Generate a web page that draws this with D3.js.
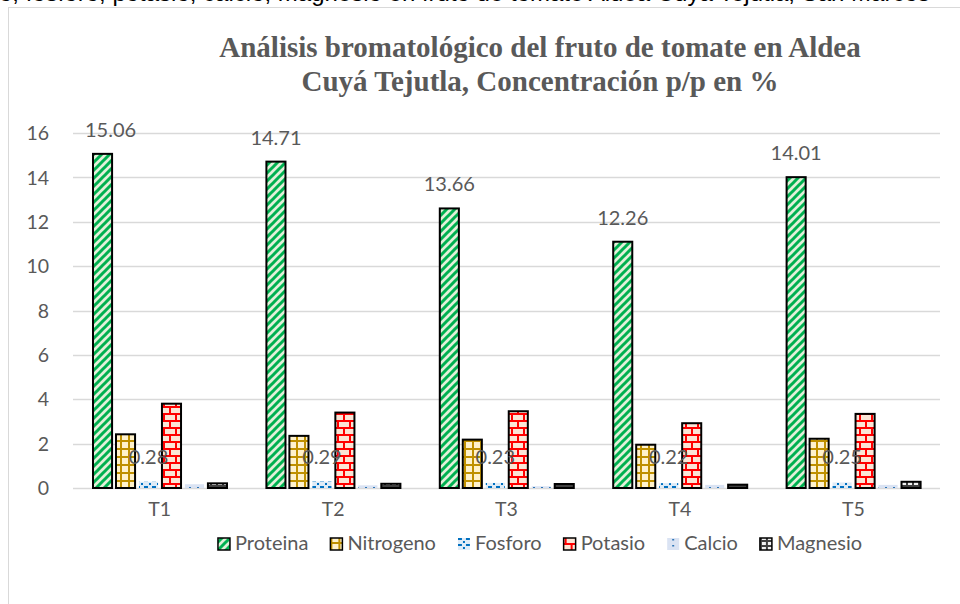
<!DOCTYPE html>
<html>
<head>
<meta charset="utf-8">
<script src="https://cdn.jsdelivr.net/npm/d3@7"></script>
<style>
  html, body { margin: 0; padding: 0; background: #fff; }
  svg { display: block; }
</style>
</head>
<body>
<svg id="chart" width="960" height="604"></svg>
<script>
// ---- data ----
const categories = ["T1", "T2", "T3", "T4", "T5"];
const seriesNames = ["Proteina", "Nitrogeno", "Fosforo", "Potasio", "Calcio", "Magnesio"];
// bar heights
const proteina  = [15.06, 14.71, 12.6, 11.1, 14.01];
const nitrogeno = [2.42, 2.35, 2.18, 1.95, 2.22];
const fosforo   = [0.28, 0.29, 0.23, 0.22, 0.25];
const potasio   = [3.80, 3.40, 3.46, 2.92, 3.34];
const calcio    = [0.17, 0.12, 0.08, 0.14, 0.14];
const magnesio  = [0.21, 0.19, 0.18, 0.15, 0.28];
// data label texts as printed in the picture
const proteinaLabels = ["15.06", "14.71", "13.66", "12.26", "14.01"];
const fosforoLabels  = ["0.28", "0.29", "0.23", "0.22", "0.25"];
const yTicks = [0, 2, 4, 6, 8, 10, 12, 14, 16];
const titleLines = ["Análisis bromatológico del fruto de tomate en Aldea",
                    "Cuyá Tejutla, Concentración p/p en %"];
const topText = "o, fósforo, potasio, calcio, magnesio en fruto de tomate  Aldea Cuyá Tejutla, San Marcos";

const seriesValues = [proteina, nitrogeno, fosforo, potasio, calcio, magnesio];

const svg = d3.select("#chart");
const font = "Lato, 'Open Sans', sans-serif";
const gray = "#595959";

// ---- patterns ----
const defs = svg.append("defs");
function pat(id, w, h, bg, draw) {
  const p = defs.append("pattern").attr("id", id).attr("patternUnits", "userSpaceOnUse")
    .attr("width", w).attr("height", h);
  p.append("rect").attr("width", w).attr("height", h).attr("fill", bg);
  draw(p);
}
pat("p-Proteina", 8, 8, "#e2f0d9", p => p.append("path")
  .attr("d", "M-2,2 L2,-2 M0,8 L8,0 M6,10 L10,6")
  .attr("stroke", "#00b050").attr("stroke-width", 3));
pat("p-Nitrogeno", 8, 8, "#fff2cc", p => p.append("path")
  .attr("d", "M0,1 H8 M1,0 V8")
  .attr("stroke", "#bf9000").attr("stroke-width", 2));
pat("p-Fosforo", 8, 6, "#deebf7", p => {
  p.append("rect").attr("x", 0).attr("y", 0).attr("width", 4).attr("height", 2).attr("fill", "#0070c0");
  p.append("rect").attr("x", 5).attr("y", 3).attr("width", 2).attr("height", 2).attr("fill", "#0070c0");
});
pat("p-Potasio", 12, 14, "#fbe5d6", p => p.append("path")
  .attr("d", "M0,1 H12 M0,8 H12 M2,1 V8 M8,8 V14")
  .attr("stroke", "#ff0000").attr("stroke-width", 2));
pat("p-Calcio", 8, 6, "#dae3f3", p => {
  p.append("rect").attr("x", 5).attr("y", 1).attr("width", 2).attr("height", 1.5).attr("fill", "#2e75b6");
});
pat("p-Magnesio", 6, 5, "#f2f2f2", p => p.append("path")
  .attr("d", "M0,1 H6 M1,0 V5")
  .attr("stroke", "#404040").attr("stroke-width", 2));

const borderColor = {Proteina: "#000", Nitrogeno: "#000", Fosforo: "none", Potasio: "#000", Calcio: "none", Magnesio: "#000"};

// ---- text of the document above (cut off at the top, as in the reference) ----
svg.append("text").attr("x", -1).attr("y", 1).attr("font-family", "'Liberation Sans', Arial, sans-serif")
  .attr("font-size", 24).attr("fill", "#000").text(topText);

// chart area border
svg.append("rect").attr("x", 8.5).attr("y", 7.5).attr("width", 980).attr("height", 640)
  .attr("fill", "#fff").attr("stroke", "#d9d9d9").attr("stroke-width", 1);

// ---- title ----
svg.append("text").attr("x", 540).attr("y", 57).attr("text-anchor", "middle")
  .attr("font-family", "'Liberation Serif', 'Times New Roman', serif").attr("font-weight", "bold")
  .attr("font-size", 29).attr("fill", gray)
  .selectAll("tspan").data(titleLines).join("tspan")
  .attr("x", 540).attr("dy", (d, i) => i === 0 ? 0 : 34).text(d => d);

// ---- scales ----
const plot = {left: 73, right: 940, top: 133, bottom: 488};
const x = d3.scaleBand().domain(categories).range([plot.left, plot.right]).padding(0);
const xs = d3.scaleBand().domain(seriesNames).range([20, 154]).paddingInner(0.17).paddingOuter(0);
const y = d3.scaleLinear().domain([0, 16]).range([plot.bottom, plot.top]);

// gridlines
svg.append("g").selectAll("line").data(yTicks).join("line")
  .attr("x1", plot.left).attr("x2", plot.right)
  .attr("y1", d => Math.round(y(d)) + 0.5).attr("y2", d => Math.round(y(d)) + 0.5)
  .attr("stroke", "#d9d9d9").attr("stroke-width", 1.3);

// y axis labels
const yAxis = d3.axisLeft(y).tickValues(yTicks).tickSize(0).tickPadding(0).tickFormat(d3.format("d"));
const gy = svg.append("g").attr("transform", `translate(${plot.left - 24},0)`).call(yAxis);
gy.select(".domain").remove();
gy.selectAll("text").attr("font-family", font).attr("font-size", 19.5).attr("fill", gray).attr("dy", "0.34em");

// x axis labels
const xAxis = d3.axisBottom(x).tickSize(0).tickPadding(0);
const gx = svg.append("g").attr("transform", `translate(0,${plot.bottom + 14})`).call(xAxis);
gx.select(".domain").remove();
gx.selectAll("text").attr("font-family", font).attr("font-size", 19.5).attr("fill", gray).attr("dy", "0.71em");

// ---- bars ----
const rows = [];
categories.forEach((c, i) => {
  seriesNames.forEach((s, k) => rows.push({cat: c, series: s, idx: i, value: seriesValues[k][i]}));
});
svg.append("g").selectAll("rect").data(rows).join("rect")
  .attr("x", d => x(d.cat) + xs(d.series))
  .attr("width", xs.bandwidth())
  .attr("y", d => y(d.value))
  .attr("height", d => y(0) - y(d.value))
  .attr("fill", d => `url(#p-${d.series})`)
  .attr("stroke", d => borderColor[d.series])
  .attr("stroke-width", 2);

// ---- data labels ----
const labelRows = rows.filter(d => d.series === "Proteina" || d.series === "Fosforo");
svg.append("g").selectAll("text").data(labelRows).join("text")
  .attr("x", d => x(d.cat) + xs(d.series) + xs.bandwidth() / 2 + (d.series === "Proteina" && d.idx === 0 ? 8 : 0))
  .attr("y", d => d.series === "Proteina" ? y(d.value) - 17 : y(0) - 24)
  .attr("text-anchor", "middle").attr("font-family", font).attr("font-size", 20)
  .attr("fill", gray)
  .text(d => d.series === "Proteina" ? proteinaLabels[d.idx] : fosforoLabels[d.idx]);

// ---- legend ----
const legend = svg.append("g");
const items = legend.selectAll("g").data(seriesNames).join("g");
items.append("rect").attr("width", 12).attr("height", 12).attr("y", -12)
  .attr("fill", d => `url(#p-${d})`)
  .attr("stroke", d => borderColor[d] === "none" ? "none" : "#000").attr("stroke-width", 1.5);
items.append("text").attr("x", 17).attr("y", 0).attr("font-family", font).attr("font-size", 20)
  .attr("fill", gray).text(d => d);
let lx = 0;
const gap = 22;
items.each(function () {
  const w = this.getBBox().width;
  d3.select(this).attr("transform", `translate(${lx},550)`);
  lx += w + gap;
});
const totalW = lx - gap;
legend.attr("transform", `translate(${540 - totalW / 2},0)`);
</script>
</body>
</html>
